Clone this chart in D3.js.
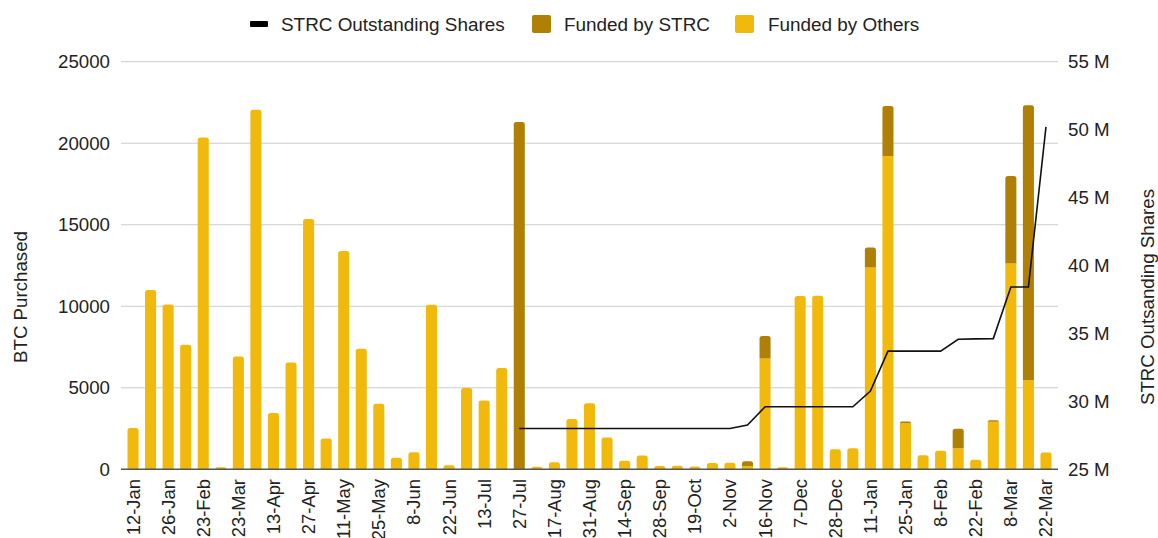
<!DOCTYPE html>
<html>
<head>
<meta charset="utf-8">
<script src="https://cdn.jsdelivr.net/npm/d3@7"></script>
<style>
  body { margin: 0; background: #fff; }
  text { font-family: "Liberation Sans", Arial, sans-serif; fill: #222; }
</style>
</head>
<body>
<svg id="chart" width="1158" height="538"></svg>
<script>
// weekly purchase dates (only every other one is shown on the axis)
const weeks = ["12-Jan","19-Jan","26-Jan","9-Feb","23-Feb","16-Mar","23-Mar","30-Mar","13-Apr","20-Apr",
  "27-Apr","4-May","11-May","18-May","25-May","1-Jun","8-Jun","15-Jun","22-Jun","29-Jun",
  "13-Jul","20-Jul","27-Jul","10-Aug","17-Aug","24-Aug","31-Aug","7-Sep","14-Sep","21-Sep",
  "28-Sep","12-Oct","19-Oct","26-Oct","2-Nov","9-Nov","16-Nov","30-Nov","7-Dec","14-Dec",
  "28-Dec","4-Jan","11-Jan","18-Jan","25-Jan","1-Feb","8-Feb","15-Feb","22-Feb","1-Mar",
  "8-Mar","15-Mar","22-Mar"];

const fundedByOthers = [2530,11000,10107,7633,20356,130,6911,22048,3459,6556,
  15355,1895,13390,7390,4020,705,1045,10100,245,4980,
  4225,6220,0,155,430,3081,4048,1955,525,850,
  196,220,168,390,397,200,6800,130,10624,10645,
  1229,1287,12370,19220,2830,855,1142,1290,592,2920,
  12630,5460,1031];

const fundedBySTRC = [0,0,0,0,0,0,0,0,0,0,
  0,0,0,0,0,0,0,0,0,0,
  0,0,21300,0,0,0,0,0,0,0,
  0,0,0,0,0,290,1378,0,0,0,
  0,0,1230,3060,100,0,0,1200,0,95,
  5360,16870,0];

// STRC outstanding shares, millions (none before the 27-Jul IPO)
const strcShares = [null,null,null,null,null,null,null,null,null,null,
  null,null,null,null,null,null,null,null,null,null,
  null,null,28.0,28.0,28.0,28.0,28.0,28.0,28.0,28.0,
  28.0,28.0,28.0,28.0,28.0,28.26,29.6,29.6,29.6,29.6,
  29.6,29.6,30.76,33.7,33.7,33.7,33.7,34.57,34.6,34.62,
  38.42,38.42,50.2];

const leftTicks = [0,5000,10000,15000,20000,25000];
const rightTicks = [25,30,35,40,45,50,55];

const colOthers = "#f1b90c";
const colStrc = "#b07f06";
const fs = 18.7;

const svg = d3.select("#chart");
const idx = d3.range(weeks.length);

const x = d3.scaleBand().domain(idx).range([121, 1058]).paddingInner(0.37).paddingOuter(0.37);
const yL = d3.scaleLinear().domain([0, 25000]).range([469.3, 61.7]);
const yR = d3.scaleLinear().domain([25, 55]).range([469.3, 61.7]);

// gridlines
svg.append("g").selectAll("line").data(leftTicks.slice(1)).join("line")
  .attr("x1", 121).attr("x2", 1058)
  .attr("y1", d => yL(d)).attr("y2", d => yL(d))
  .attr("stroke", "#cccccc").attr("stroke-width", 1);

// stacked bars
const rows = idx.map(i => ({i: i, others: fundedByOthers[i], strc: fundedBySTRC[i]}));
const stack = d3.stack().keys(["others", "strc"])(rows);
const colors = {others: colOthers, strc: colStrc};

function barPath(x0, y0, w, h, r) {
  r = Math.min(r, h);
  return "M" + x0 + "," + (y0 + h) +
    "V" + (y0 + r) + "Q" + x0 + "," + y0 + " " + (x0 + r) + "," + y0 +
    "H" + (x0 + w - r) + "Q" + (x0 + w) + "," + y0 + " " + (x0 + w) + "," + (y0 + r) +
    "V" + (y0 + h) + "Z";
}

stack.forEach(layer => {
  svg.append("g").selectAll("path").data(layer.filter(d => d[1] > d[0])).join("path")
    .attr("fill", colors[layer.key])
    .attr("d", d => {
      const top = d.data.others + d.data.strc === d[1];
      const y0 = yL(d[1]), h = yL(d[0]) - yL(d[1]);
      return barPath(x(d.data.i), y0, x.bandwidth(), h, top ? 2.5 : 0);
    });
});

// baseline
svg.append("line").attr("x1", 121).attr("x2", 1058)
  .attr("y1", yL(0)).attr("y2", yL(0))
  .attr("stroke", "#555").attr("stroke-width", 1.6);

// shares line
const line = d3.line()
  .defined(d => d != null)
  .x((d, i) => x(i) + x.bandwidth() / 2)
  .y(d => yR(d));
svg.append("path").datum(strcShares)
  .attr("fill", "none").attr("stroke", "#111").attr("stroke-width", 1.6)
  .attr("d", line);

// left axis labels
svg.append("g").selectAll("text").data(leftTicks).join("text")
  .attr("x", 110).attr("y", d => yL(d))
  .attr("text-anchor", "end").attr("dominant-baseline", "central")
  .attr("font-size", fs).text(d => d);

// right axis labels
svg.append("g").selectAll("text").data(rightTicks).join("text")
  .attr("x", 1068).attr("y", d => yR(d))
  .attr("text-anchor", "start").attr("dominant-baseline", "central")
  .attr("font-size", fs).text(d => d + " M");

// x labels, every other week
svg.append("g").selectAll("text").data(idx.filter(i => i % 2 === 0)).join("text")
  .attr("transform", i => "translate(" + (x(i) + x.bandwidth() / 2) + "," + 479 + ") rotate(-90)")
  .attr("text-anchor", "end").attr("dominant-baseline", "central")
  .attr("font-size", 18.4).text(i => weeks[i]);

// axis titles
svg.append("text")
  .attr("transform", "translate(20,297) rotate(-90)")
  .attr("text-anchor", "middle").attr("dominant-baseline", "central")
  .attr("font-size", fs).text("BTC Purchased");
svg.append("text")
  .attr("transform", "translate(1147,297) rotate(-90)")
  .attr("text-anchor", "middle").attr("dominant-baseline", "central")
  .attr("font-size", fs).text("STRC Outsanding Shares");

// legend
const legend = svg.append("g");
legend.append("rect").attr("x", 250).attr("y", 21).attr("width", 18).attr("height", 6)
  .attr("rx", 1).attr("fill", "#000");
legend.append("text").attr("x", 281).attr("y", 24).attr("dominant-baseline", "central")
  .attr("font-size", 18.9).text("STRC Outstanding Shares");
legend.append("rect").attr("x", 532).attr("y", 15).attr("width", 19).attr("height", 18)
  .attr("rx", 2).attr("fill", colStrc);
legend.append("text").attr("x", 564).attr("y", 24).attr("dominant-baseline", "central")
  .attr("font-size", 18.9).text("Funded by STRC");
legend.append("rect").attr("x", 735).attr("y", 15).attr("width", 19).attr("height", 18)
  .attr("rx", 2).attr("fill", colOthers);
legend.append("text").attr("x", 768).attr("y", 24).attr("dominant-baseline", "central")
  .attr("font-size", 18.9).text("Funded by Others");
</script>
</body>
</html>
